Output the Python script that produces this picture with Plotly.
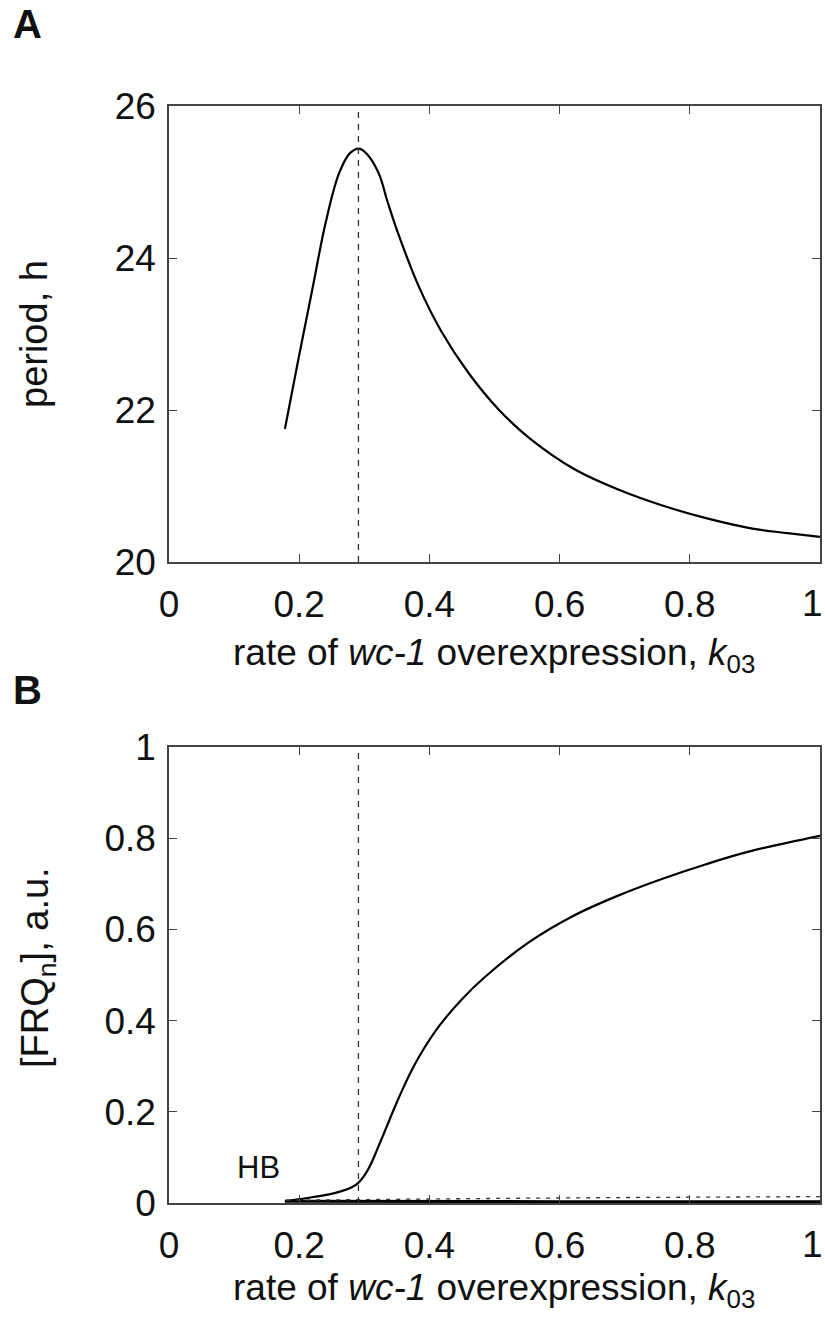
import plotly.graph_objects as go

# ---- data ----
k_period = [0.178, 0.1995, 0.22, 0.2405, 0.261, 0.278, 0.292, 0.305, 0.3224, 0.335, 0.35, 0.384,
            0.418, 0.459, 0.507, 0.555, 0.623, 0.691, 0.759, 0.828, 0.896, 0.95, 1.0]
period = [21.75, 22.70, 23.58, 24.46, 25.11, 25.38, 25.44, 25.36, 25.11, 24.76, 24.37, 23.62,
          23.04, 22.50, 22.00, 21.62, 21.22, 20.95, 20.74, 20.57, 20.44, 20.38, 20.33]

k_frq_max = [0.178, 0.212, 0.246, 0.265, 0.28, 0.29, 0.30, 0.31, 0.32, 0.33, 0.34, 0.35, 0.36,
             0.375, 0.39, 0.416, 0.450, 0.484, 0.552, 0.620, 0.688, 0.756, 0.825, 0.892, 1.0]
frq_max = [0.004, 0.011, 0.019, 0.026, 0.034, 0.043, 0.060, 0.085, 0.118, 0.152, 0.187, 0.221, 0.253,
           0.297, 0.335, 0.390, 0.447, 0.494, 0.571, 0.629, 0.673, 0.710, 0.743, 0.771, 0.805]

k_frq_min = [0.178, 0.4, 0.6, 0.8, 1.0]
frq_min = [0.004, 0.003, 0.003, 0.003, 0.003]

k_steady = [0.18, 0.3, 0.5, 0.7, 1.0]
frq_steady = [0.006, 0.008, 0.010, 0.012, 0.014]

k_peak = 0.291

x_ticks = [0, 0.2, 0.4, 0.6, 0.8]
x_ticklabels = ["0", "0.2", "0.4", "0.6", "0.8"]
x_last_tick = 1
x_last_label = "1"
yA_ticks = [20, 22, 24, 26]
yB_ticks = [0, 0.2, 0.4, 0.6, 0.8, 1]
yB_ticklabels = ["0", "0.2", "0.4", "0.6", "0.8", "1"]

FONT = "Liberation Sans, Arial, Helvetica, sans-serif"
W, H = 825, 1326
TICK_SIZE = 37

fig = go.Figure()
fig.add_trace(go.Scatter(x=k_period, y=period, mode="lines",
                         line=dict(color="black", width=2.2, shape="spline", smoothing=1.0),
                         xaxis="x", yaxis="y", showlegend=False))
fig.add_trace(go.Scatter(x=k_frq_max, y=frq_max, mode="lines",
                         line=dict(color="black", width=2.2, shape="spline", smoothing=1.0),
                         xaxis="x2", yaxis="y2", showlegend=False))
fig.add_trace(go.Scatter(x=k_frq_min, y=frq_min, mode="lines", line=dict(color="black", width=3),
                         xaxis="x2", yaxis="y2", showlegend=False))
fig.add_trace(go.Scatter(x=k_steady, y=frq_steady, mode="lines",
                         line=dict(color="#333", width=1.3, dash="4px,6px"),
                         xaxis="x2", yaxis="y2", showlegend=False))

xdom = [169 / W, 820 / W]
yA_dom = [1 - 562 / H, 1 - 106 / H]
yB_dom = [1 - 1203 / H, 1 - 747 / H]

axis_common = dict(showline=True, linecolor="#444", linewidth=1.5, mirror="ticks", ticks="inside",
                   ticklen=8, tickwidth=1.2, tickcolor="#444", showgrid=False, zeroline=False,
                   tickfont=dict(family=FONT, size=TICK_SIZE, color="#111"), automargin=False)

fig.update_layout(
    width=W, height=H, margin=dict(l=0, r=0, t=0, b=0),
    plot_bgcolor="white", paper_bgcolor="white",
    xaxis=dict(domain=xdom, range=[0, 1], anchor="y", tickvals=x_ticks + [x_last_tick],
               ticktext=x_ticklabels + [""], ticklabelstandoff=9, **axis_common),
    yaxis=dict(domain=yA_dom, range=[20, 26], anchor="x", tickvals=yA_ticks,
               ticklabelstandoff=4, **axis_common),
    xaxis2=dict(domain=xdom, range=[0, 1], anchor="y2", tickvals=x_ticks + [x_last_tick],
                ticktext=x_ticklabels + [""], ticklabelstandoff=9, **axis_common),
    yaxis2=dict(domain=yB_dom, range=[0, 1], anchor="x2", tickvals=yB_ticks, ticktext=yB_ticklabels,
                ticklabelstandoff=4, **axis_common),
)

dash_line = dict(color="#333", width=1.3, dash="6px,6px")
fig.add_shape(type="line", xref="x", yref="y domain", x0=k_peak, x1=k_peak, y0=0, y1=1, line=dash_line)
fig.add_shape(type="line", xref="x2", yref="y2 domain", x0=k_peak, x1=k_peak, y0=0, y1=1, line=dash_line)

# last x tick label "1" sits at the figure's right edge
for xr, yr in (("x", "y domain"), ("x2", "y2 domain")):
    fig.add_annotation(x=x_last_tick, y=0, xref=xr, yref=yr, text=x_last_label, showarrow=False,
                       xanchor="right", yanchor="top", xshift=5, yshift=-19,
                       font=dict(family=FONT, size=TICK_SIZE, color="#111"))

xtitle = "rate of <i>wc-1</i> overexpression, <i>k</i><sub>03</sub>"
ann = [
    dict(text="<b>A</b>", x=27 / W, y=1 - 24 / H, font=dict(size=40)),
    dict(text="<b>B</b>", x=27 / W, y=1 - 690 / H, font=dict(size=40)),
    dict(text=xtitle, x=494 / W, y=1 - 655 / H, font=dict(size=37)),
    dict(text=xtitle, x=494 / W, y=1 - 1290 / H, font=dict(size=37)),
    dict(text="period, h", x=34 / W, y=1 - 334 / H, textangle=-90, font=dict(size=38)),
    dict(text="[FRQ<sub>n</sub>], a.u.", x=38 / W, y=1 - 968 / H, textangle=-90, font=dict(size=38)),
    dict(text="HB", x=258 / W, y=1 - 1167 / H, font=dict(size=31)),
]
for a in ann:
    f = dict(family=FONT, color="#111")
    f.update(a.pop("font"))
    fig.add_annotation(xref="paper", yref="paper", showarrow=False, xanchor="center", yanchor="middle",
                       font=f, **a)

fig.write_html("out.html")
